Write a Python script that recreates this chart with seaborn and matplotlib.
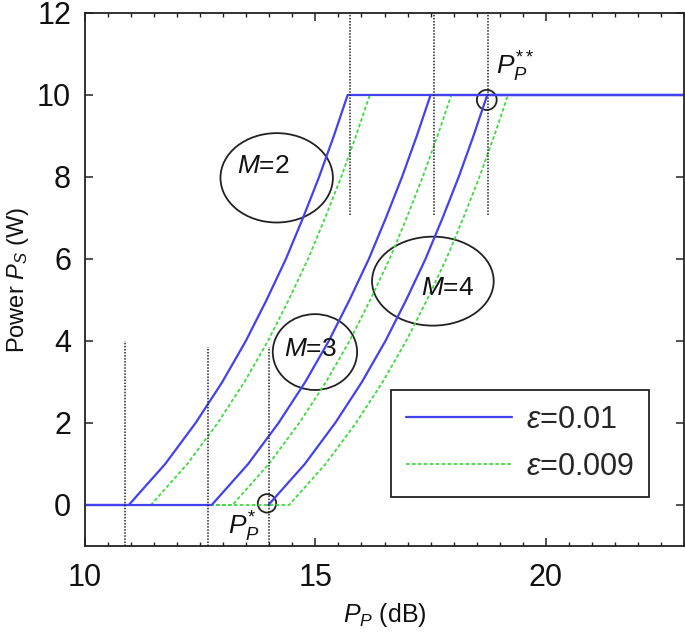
import matplotlib
matplotlib.use("Agg")
import matplotlib.pyplot as plt
import seaborn as sns
from matplotlib.patches import Ellipse
from matplotlib.lines import Line2D
from matplotlib.ticker import MultipleLocator

# secondary power levels (W): floor, rising part, ceiling
ps_full = [0, 0, 1, 2, 3, 4, 5, 6, 7, 8, 9, 10, 10]
ps_no_floor = [0, 1, 2, 3, 4, 5, 6, 7, 8, 9, 10, 10]

# primary power P_P (dB) at each of the levels above
blue_m2 = [10, 10.95, 11.74, 12.40, 12.98, 13.49, 13.94, 14.36, 14.73, 15.08, 15.40, 15.70, 23]
blue_m3 = [10, 12.75, 13.54, 14.20, 14.78, 15.29, 15.74, 16.16, 16.53, 16.88, 17.20, 17.50, 23]
blue_m4 = [13.98, 14.77, 15.43, 16.01, 16.52, 16.97, 17.39, 17.76, 18.11, 18.43, 18.73, 23]
green_m2 = [10, 11.43, 12.22, 12.88, 13.46, 13.97, 14.42, 14.84, 15.21, 15.56, 15.88, 16.18, 23]
green_m3 = [10, 13.20, 13.99, 14.65, 15.23, 15.74, 16.19, 16.61, 16.98, 17.33, 17.65, 17.95, 23]
green_m4 = [10, 14.43, 15.22, 15.88, 16.46, 16.97, 17.42, 17.84, 18.21, 18.56, 18.88, 19.18, 23]

# dotted marker lines
vline_x = [10.87, 12.67, 14.00, 15.75, 17.57, 18.75]
vline_lo = [-1, -1, -1, 7.07, 7.07, 7.07]
vline_hi = [4.0, 3.85, 3.85, 12, 12, 12]

# annotation ellipses: centre x, centre y, width, height
ell_x = [14.16, 14.99, 17.55, 13.95, 18.72]
ell_y = [7.98, 3.73, 5.46, 0.04, 9.88]
ell_w = [2.44, 1.83, 2.64, 0.40, 0.43]
ell_h = [2.18, 1.85, 2.17, 0.45, 0.49]

m_labels = ["$M$=2", "$M$=3", "$M$=4"]
m_label_x = [13.88, 14.89, 17.86]
m_label_y = [8.27, 3.80, 5.29]

legend_labels = [r"$\varepsilon$=0.01", r"$\varepsilon$=0.009"]

BLUE = "#4242ee"
GREEN = "#3ddc3d"
DARK = "#222222"
green_ls = (0, (2.0, 1.3))

sns.set_theme(style="ticks")
plt.rcParams["font.family"] = ["Liberation Sans", "DejaVu Sans"]
plt.rcParams["mathtext.fontset"] = "custom"
plt.rcParams["mathtext.rm"] = "Liberation Sans"
plt.rcParams["mathtext.it"] = "Liberation Sans:italic"

fig = plt.figure(figsize=(6.85, 6.37), dpi=100)
ax = fig.add_axes([85 / 685, 91 / 637, 599 / 685, 533 / 637])

for xs, ys in [(green_m2, ps_full), (green_m3, ps_full), (green_m4, ps_full)]:
    sns.lineplot(x=xs, y=ys, ax=ax, color=GREEN, linewidth=1.3,
                 linestyle=green_ls, sort=False, estimator=None)
for xs, ys in [(blue_m2, ps_full), (blue_m3, ps_full), (blue_m4, ps_no_floor)]:
    sns.lineplot(x=xs, y=ys, ax=ax, color=BLUE, linewidth=1.6,
                 sort=False, estimator=None)

ax.vlines(vline_x, vline_lo, vline_hi, colors=DARK, linewidth=1.1,
          linestyles=(0, (1, 1)))

for cx, cy, w, h in zip(ell_x, ell_y, ell_w, ell_h):
    ax.add_patch(Ellipse((cx, cy), w, h, fill=False, edgecolor=DARK, linewidth=1.3))

for lab, lx, ly in zip(m_labels, m_label_x, m_label_y):
    ax.text(lx, ly, lab, fontsize=19, ha="center", va="center", color="#111111")

ax.text(13.11, -0.72, "$P_P^{*}$", fontsize=19, color="#111111")
ax.text(18.91, 10.49, "$P_P^{**}$", fontsize=19, color="#111111")

ax.set_xlim(10, 23)
ax.set_ylim(-1, 12)
ax.set_xticks([10, 15, 20])
ax.set_yticks([0, 2, 4, 6, 8, 10, 12])
ax.xaxis.set_minor_locator(MultipleLocator(0.5))
ax.tick_params(which="both", direction="in", top=True, right=True,
               colors=DARK, labelcolor="#111111", labelsize=22)
ax.tick_params(which="major", length=6, width=1.1)
ax.tick_params(which="minor", length=3, width=1.0)
ax.tick_params(axis="x", which="major", pad=12)
ax.tick_params(axis="y", which="major", pad=10)
for sp in ax.spines.values():
    sp.set_color(DARK)
    sp.set_linewidth(1.3)

ax.set_xlabel("$P_P$ (dB)", fontsize=18, color="#111111", labelpad=6)
ax.set_ylabel("Power $P_S$ (W)", fontsize=17, color="#111111", labelpad=4)

handles = [Line2D([], [], color=BLUE, linewidth=1.6),
           Line2D([], [], color=GREEN, linewidth=1.3, linestyle=green_ls)]
leg = ax.legend(handles, legend_labels, loc="lower left",
                bbox_to_anchor=(0.511, 0.092), fontsize=22, frameon=True,
                fancybox=False, handlelength=3.45, handletextpad=0.45,
                borderpad=0.5, labelspacing=0.55, borderaxespad=0)
leg.get_frame().set_edgecolor(DARK)
leg.get_frame().set_linewidth(1.3)
leg.get_frame().set_alpha(1)

fig.savefig("out.png", dpi=100)
